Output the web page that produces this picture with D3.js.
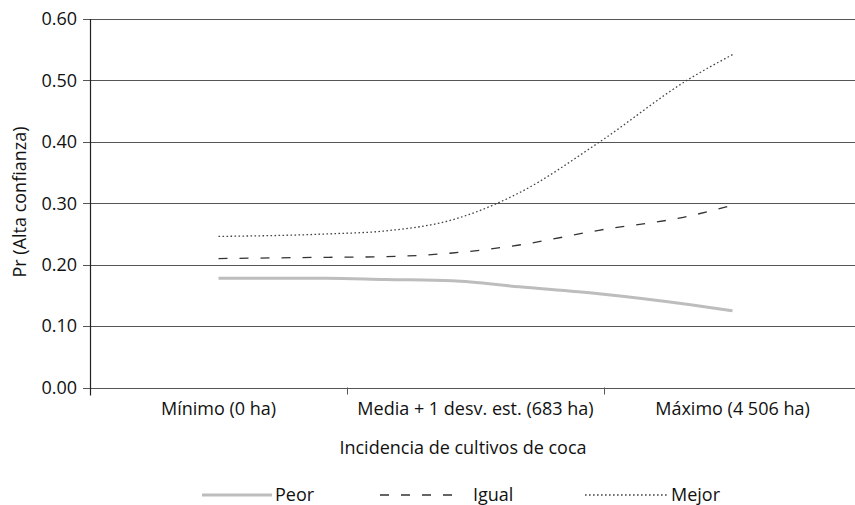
<!DOCTYPE html>
<html>
<head>
<meta charset="utf-8">
<script src="https://cdn.jsdelivr.net/npm/d3@7"></script>
<style>
  body { margin: 0; background: #fff; }
  text { font-family: "Open Sans", "Noto Sans", sans-serif; fill: #111; }
</style>
</head>
<body>
<svg id="chart" width="855" height="505"></svg>
<script>
// categories on the x axis
var categories = ["Mínimo (0 ha)", "Media + 1 desv. est. (683 ha)", "Máximo (4 506 ha)"];

// positions of the read points, in category units (0 = first category, 2 = last)
var positions = [0, 0.42, 0.65, 0.91, 1.17, 1.48, 1.83, 2];

var peor  = [0.178, 0.178, 0.176, 0.174, 0.164, 0.1525, 0.135, 0.125];
var igual = [0.210, 0.212, 0.213, 0.219, 0.232, 0.256, 0.279, 0.297];
var mejor = [0.246, 0.250, 0.255, 0.273, 0.317, 0.399, 0.502, 0.542];

var yTicks = [0, 0.1, 0.2, 0.3, 0.4, 0.5, 0.6];

var series = [
  {name: "Peor",  values: peor,  colour: "#bdbdbd", width: 3,   dash: null},
  {name: "Igual", values: igual, colour: "#333",    width: 1.3, dash: "9,12"},
  {name: "Mejor", values: mejor, colour: "#444",    width: 1.3, dash: "1.6,2.4"}
];

var fontSize = "18px";
var svg = d3.select("#chart");
var plotLeft = 90, plotRight = 861, plotTop = 19, plotBottom = 387.5;

var x = d3.scaleBand().domain(categories).range([plotLeft, plotRight]);
var xPos = d3.scaleLinear().domain([0, 2])
  .range([x(categories[0]) + x.bandwidth()/2, x(categories[2]) + x.bandwidth()/2]);
var y = d3.scaleLinear().domain([0, 0.6]).range([plotBottom, plotTop]);

// gridlines
svg.append("g")
  .selectAll("line")
  .data(yTicks)
  .enter()
  .append("line")
  .attr("x1", plotLeft - 7)
  .attr("x2", 855)
  .attr("y1", function(d) { return Math.round(y(d)) + 0.5; })
  .attr("y2", function(d) { return Math.round(y(d)) + 0.5; })
  .attr("stroke", "#555")
  .attr("stroke-width", 1.2);

// y axis
var yAxis = svg.append("g")
  .attr("transform", "translate(" + plotLeft + ",0)")
  .call(d3.axisLeft(y).tickValues(yTicks).tickFormat(d3.format(".2f")).tickSize(7).tickPadding(6));
yAxis.select(".domain").remove();
yAxis.selectAll(".tick line").remove();
yAxis.selectAll("text").attr("font-size", fontSize).style("font-family", "'Open Sans', sans-serif").attr("fill", "#111");

svg.append("line")
  .attr("x1", plotLeft + 0.5).attr("x2", plotLeft + 0.5)
  .attr("y1", plotTop).attr("y2", plotBottom + 8)
  .attr("stroke", "#222").attr("stroke-width", 1.2);

// x axis
var xAxis = svg.append("g")
  .attr("transform", "translate(0," + (Math.round(plotBottom) + 0.5) + ")")
  .call(d3.axisBottom(x).tickSize(0).tickPadding(14));
xAxis.select(".domain").remove();
xAxis.selectAll("text").attr("font-size", fontSize).style("font-family", "'Open Sans', sans-serif").attr("fill", "#111");

// category boundary ticks
svg.append("g")
  .selectAll("line")
  .data(categories.slice(1))
  .enter()
  .append("line")
  .attr("x1", function(d) { return Math.round(x(d)) + 0.5; })
  .attr("x2", function(d) { return Math.round(x(d)) + 0.5; })
  .attr("y1", plotBottom)
  .attr("y2", plotBottom + 7)
  .attr("stroke", "#555")
  .attr("stroke-width", 1);

// axis titles
svg.append("text")
  .attr("x", 463)
  .attr("y", 454)
  .attr("text-anchor", "middle")
  .attr("font-size", fontSize)
  .text("Incidencia de cultivos de coca");

svg.append("text")
  .attr("transform", "translate(26,202) rotate(-90)")
  .attr("text-anchor", "middle")
  .attr("font-size", fontSize)
  .text("Pr (Alta confianza)");

// lines
var line = d3.line()
  .x(function(d, i) { return xPos(positions[i]); })
  .y(function(d) { return y(d); })
  .curve(d3.curveMonotoneX);

svg.append("g")
  .selectAll("path")
  .data(series)
  .enter()
  .append("path")
  .attr("d", function(d) { return line(d.values); })
  .attr("fill", "none")
  .attr("stroke", function(d) { return d.colour; })
  .attr("stroke-width", function(d) { return d.width; })
  .attr("stroke-dasharray", function(d) { return d.dash; });

// legend
var legendX = [202, 380, 585];
var legendW = [70, 77, 83];
var legend = svg.append("g")
  .selectAll("g")
  .data(series)
  .enter()
  .append("g");

legend.append("line")
  .attr("x1", function(d, i) { return legendX[i]; })
  .attr("x2", function(d, i) { return legendX[i] + legendW[i]; })
  .attr("y1", 495)
  .attr("y2", 495)
  .attr("stroke", function(d) { return d.colour; })
  .attr("stroke-width", function(d) { return d.width; })
  .attr("stroke-dasharray", function(d) { return d.dash; });

legend.append("text")
  .attr("x", function(d, i) { return legendX[i] + legendW[i] + (i == 1 ? 16 : 3); })
  .attr("y", 501)
  .attr("font-size", fontSize)
  .text(function(d) { return d.name; });
</script>
</body>
</html>
